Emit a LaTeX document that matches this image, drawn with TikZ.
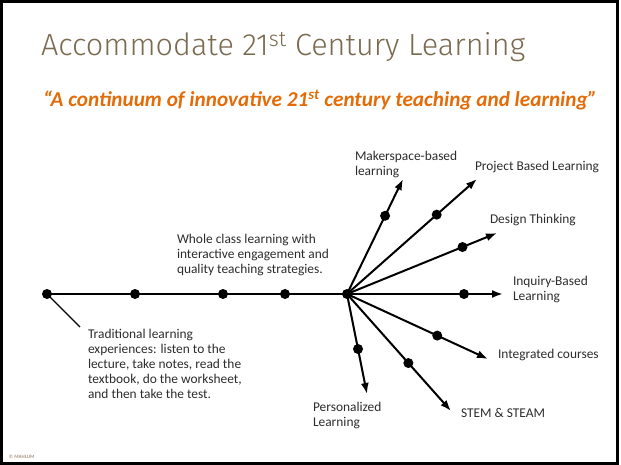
\documentclass[tikz,border=0pt]{standalone}
\usepackage{fontspec}
\setmainfont{Carlito}
\newfontfamily\titlefont{Fira Sans Light}
\usetikzlibrary{arrows.meta}
\definecolor{titlebrown}{RGB}{122,106,80}
\definecolor{quoteorange}{RGB}{227,108,9}
\definecolor{labelgray}{RGB}{44,44,44}
\definecolor{creditgray}{RGB}{170,150,130}
\tikzset{
  every node/.style={inner sep=0pt, outer sep=0pt},
  stage/.style={circle, fill=black, minimum size=10pt},
  spoke/.style={line width=2pt, -{Latex[length=11pt,width=8pt]}},
  trunk/.style={line width=2pt},
  leader/.style={line width=1.3pt},
  lbl/.style={text=labelgray, font=\fontsize{13.4}{15}\selectfont, align=left, anchor=west},
}
\begin{document}
\begin{tikzpicture}[x=1pt, y=-1pt]
  \useasboundingbox (0,0) rectangle (621,465);
  % slide frame
  \draw[line width=3pt] (1.5,1.5) rectangle (617.5,463.5);

  % headings
  \node[anchor=base west, text=titlebrown, font=\titlefont\fontsize{30.6}{37}\selectfont]
    (title) at (41,56) {Accommodate 21\textsuperscript{st} Century Learning};
  \node[anchor=base west, text=quoteorange, font=\bfseries\itshape\fontsize{21.2}{25}\selectfont]
    (quote) at (43,107) {“A continuum of innovative 21\textsuperscript{st} century teaching and learning”};

  % stages along the continuum
  \node[stage] (s0) at (47,294) {};
  \node[stage] (s1) at (135,294) {};
  \node[stage] (s2) at (223,294) {};
  \node[stage] (s3) at (285,294) {};
  \node[stage] (hub) at (347,294) {};
  \draw[trunk] (s0.center) -- (hub.center);

  % branch end points
  \coordinate (tMaker)   at (403,179);
  \coordinate (tProject) at (477,179);
  \coordinate (tDesign)  at (497,233);
  \coordinate (tInquiry) at (503,294);
  \coordinate (tInteg)   at (488,359);
  \coordinate (tStem)    at (451,411);
  \coordinate (tPerson)  at (367,394);

  % branches, each with its own stage dot
  \draw[spoke] (hub.center) -- node[stage, pos=0.68] (dMaker) {} (tMaker);
  \draw[spoke] (hub.center) -- node[stage, pos=0.69] (dProject) {} (tProject);
  \draw[spoke] (hub.center) -- node[stage, pos=0.77] (dDesign) {} (tDesign);
  \draw[spoke] (hub.center) -- node[stage, pos=0.75] (dInquiry) {} (tInquiry);
  \draw[spoke] (hub.center) -- node[stage, pos=0.64] (dInteg) {} (tInteg);
  \draw[spoke] (hub.center) -- node[stage, pos=0.59] (dStem) {} (tStem);
  \draw[spoke] (hub.center) -- node[stage, pos=0.55] (dPerson) {} (tPerson);

  % branch labels
  \node[lbl] (lMaker)   at (355,165) {Makerspace-based\\learning};
  \node[lbl] (lProject) at (475,167) {Project Based Learning};
  \node[lbl] (lDesign)  at (490,220) {Design Thinking};
  \node[lbl] (lInquiry) at (513,289) {Inquiry-Based\\Learning};
  \node[lbl] (lInteg)   at (498,355) {Integrated courses};
  \node[lbl] (lStem)    at (461,413) {STEM \& STEAM};
  \node[lbl] (lPerson)  at (313,415) {Personalized\\Learning};

  % descriptions along the trunk
  \node[lbl] (lWhole) at (177,255)
    {Whole class learning with\\interactive engagement and\\quality teaching strategies.};
  \coordinate (tradTip) at (80,327);
  \draw[leader] (s0.center) -- (tradTip);
  \node[lbl] (lTrad) at (88,364)
    {Traditional learning\\experiences: listen to the\\lecture, take notes, read the\\textbook, do the worksheet,\\and then take the test.};

  % credit
  \node[anchor=base west, text=creditgray, font=\bfseries\fontsize{5}{6}\selectfont]
    (credit) at (9,458) {© MAHLUM};
\end{tikzpicture}
\end{document}
